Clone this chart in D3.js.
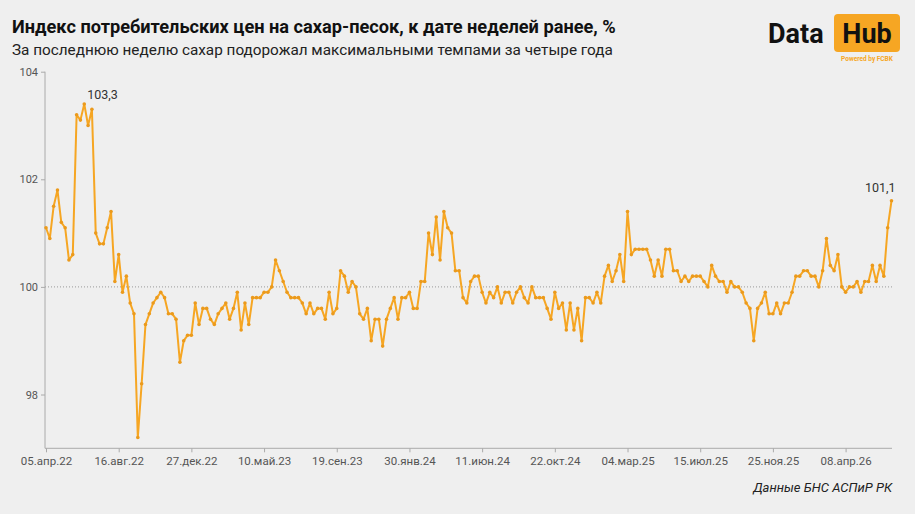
<!DOCTYPE html>
<html>
<head>
  <meta charset="utf-8">
  <title>Сахар-песок, недельный ИПЦ</title>
  <style>
    html, body { margin: 0; padding: 0; background: #efefef; }
    body { font-family: Roboto, "Noto Sans", sans-serif; }
    svg { display: block; }
    .tick text { fill: #555; }
  </style>
</head>
<body>
  <svg width="915" height="514"></svg>

  <script src="https://d3js.org/d3.v7.min.js"></script>
  <script>
    // weekly CPI for sugar, % to the previous week
    var values = [
      101.1, 100.9, 101.5, 101.8, 101.2, 101.1, 100.5, 100.6, 103.2, 103.1,
      103.4, 103.0, 103.3, 101.0, 100.8, 100.8, 101.1, 101.4, 100.1, 100.6,
      99.9, 100.2, 99.7, 99.5, 97.2, 98.2, 99.3, 99.5, 99.7, 99.8,
      99.9, 99.8, 99.5, 99.5, 99.4, 98.6, 99.0, 99.1, 99.1, 99.7,
      99.3, 99.6, 99.6, 99.4, 99.3, 99.5, 99.6, 99.7, 99.4, 99.6,
      99.9, 99.2, 99.7, 99.3, 99.8, 99.8, 99.8, 99.9, 99.9, 100.0,
      100.5, 100.3, 100.1, 99.9, 99.8, 99.8, 99.8, 99.7, 99.5, 99.7,
      99.5, 99.6, 99.6, 99.4, 99.9, 99.5, 99.6, 100.3, 100.2, 99.9,
      100.1, 100.0, 99.5, 99.4, 99.6, 99.0, 99.4, 99.4, 98.9, 99.4,
      99.6, 99.8, 99.4, 99.8, 99.8, 99.9, 99.6, 99.6, 100.1, 100.1,
      101.0, 100.6, 101.3, 100.5, 101.4, 101.1, 101.0, 100.3, 100.3, 99.8,
      99.7, 100.1, 100.2, 100.2, 99.9, 99.7, 99.9, 99.8, 100.0, 99.7,
      99.9, 99.9, 99.7, 99.9, 100.0, 99.8, 99.7, 100.0, 99.8, 99.8,
      99.8, 99.6, 99.4, 99.9, 99.6, 99.7, 99.2, 99.7, 99.2, 99.6,
      99.0, 99.8, 99.8, 99.7, 99.9, 99.7, 100.2, 100.4, 100.1, 100.3,
      100.6, 100.1, 101.4, 100.6, 100.7, 100.7, 100.7, 100.7, 100.5, 100.2,
      100.5, 100.2, 100.7, 100.7, 100.3, 100.3, 100.1, 100.2, 100.1, 100.2,
      100.2, 100.2, 100.1, 100.0, 100.4, 100.2, 100.1, 100.1, 99.9, 100.1,
      100.0, 100.0, 99.9, 99.7, 99.6, 99.0, 99.6, 99.7, 99.9, 99.5,
      99.5, 99.7, 99.5, 99.7, 99.7, 99.9, 100.2, 100.2, 100.3, 100.3,
      100.2, 100.2, 100.0, 100.3, 100.9, 100.4, 100.3, 100.6, 100.0, 99.9,
      100.0, 100.0, 100.1, 99.9, 100.1, 100.1, 100.4, 100.1, 100.4, 100.2,
      101.1, 101.6
    ];

    // x-axis labels and the week they sit on
    var tickLabels = ['05.апр.22', '16.авг.22', '27.дек.22', '10.май.23', '19.сен.23', '30.янв.24',
      '11.июн.24', '22.окт.24', '04.мар.25', '15.июл.25', '25.ноя.25', '08.апр.26'];
    var tickWeeks = [0, 19, 38, 57, 76, 95, 114, 133, 152, 171, 190, 209];

    var yTicks = [98, 100, 102, 104];

    // value labels on the chart
    var noteWeeks = [10, 221];
    var noteTexts = ['103,3', '101,1'];

    var svg = d3.select('svg');
    var orange = '#f6a623';

    // titles
    svg.append('text')
      .attr('x', 12).attr('y', 33)
      .style('font-size', '18.2px').style('font-weight', 700).style('fill', '#111')
      .text('Индекс потребительских цен на сахар-песок, к дате неделей ранее, %');
    svg.append('text')
      .attr('x', 12).attr('y', 55)
      .style('font-size', '15.3px').style('fill', '#222')
      .text('За последнюю неделю сахар подорожал максимальными темпами за четыре года');

    // Data Hub logo
    var logo = svg.append('g');
    logo.append('text')
      .attr('x', 768).attr('y', 43)
      .style('font-size', '27px').style('font-weight', 700).style('fill', '#111')
      .text('Data');
    logo.append('rect')
      .attr('x', 834).attr('y', 14).attr('width', 66).attr('height', 38).attr('rx', 4)
      .attr('fill', orange);
    logo.append('text')
      .attr('x', 867).attr('y', 43).attr('text-anchor', 'middle')
      .style('font-size', '27px').style('font-weight', 700).style('fill', '#111')
      .text('Hub');
    logo.append('text')
      .attr('x', 867).attr('y', 61).attr('text-anchor', 'middle')
      .style('font-size', '6.5px').style('font-weight', 700).style('fill', orange)
      .text('Powered by FCBK');

    // scales
    var x = d3.scaleLinear().domain([0, values.length - 1]).range([46, 891.5]);
    var y = d3.scaleLinear().domain([97, 104]).range([448.3, 71.7]);

    // reference line at 100
    svg.append('line')
      .attr('x1', 45).attr('x2', 892)
      .attr('y1', y(100)).attr('y2', y(100))
      .attr('stroke', '#9a9a9a').attr('stroke-width', 1)
      .attr('stroke-dasharray', '1,2');

    // axes
    var yAxis = svg.append('g')
      .attr('transform', 'translate(45,0)')
      .call(d3.axisLeft(y).tickValues(yTicks).tickFormat(d3.format('d'))
        .tickSize(4).tickPadding(3));
    yAxis.select('.domain').attr('stroke', '#aaa').attr('d', 'M0,' + y(104) + 'V' + y(97));
    yAxis.selectAll('.tick line').attr('stroke', '#aaa');
    yAxis.selectAll('.tick text').style('font-size', '11px').style('font-family', 'Roboto');

    var xAxis = svg.append('g')
      .attr('transform', 'translate(0,' + y(97) + ')')
      .call(d3.axisBottom(x).tickValues(tickWeeks)
        .tickFormat(function(d, i) { return tickLabels[i]; })
        .tickSize(4).tickPadding(5).tickSizeOuter(0));
    xAxis.select('.domain').attr('stroke', '#aaa').attr('d', 'M45,0H892');
    xAxis.selectAll('.tick line').attr('stroke', '#aaa');
    xAxis.selectAll('.tick text').style('font-size', '11.5px').style('font-family', 'Roboto');

    // series
    var line = d3.line()
      .x(function(d, i) { return x(i); })
      .y(function(d) { return y(d); });

    svg.append('path')
      .datum(values)
      .attr('d', line)
      .attr('fill', 'none')
      .attr('stroke', orange)
      .attr('stroke-width', 2)
      .attr('stroke-linejoin', 'round');

    svg.append('g').selectAll('circle')
      .data(values)
      .enter().append('circle')
      .attr('cx', function(d, i) { return x(i); })
      .attr('cy', function(d) { return y(d); })
      .attr('r', 1.8)
      .attr('fill', '#eb9a1c');

    // value labels
    svg.append('g').selectAll('text')
      .data(noteWeeks)
      .enter().append('text')
      .attr('x', function(d, i) { return x(d) + (i === 0 ? 3 : 4); })
      .attr('y', function(d, i) { return y(values[d]) + (i === 0 ? -5 : -9); })
      .attr('text-anchor', function(d, i) { return i === 0 ? 'start' : 'end'; })
      .style('font-size', '12.5px').style('fill', '#333')
      .text(function(d, i) { return noteTexts[i]; });

    // source
    svg.append('text')
      .attr('x', 892).attr('y', 492).attr('text-anchor', 'end')
      .style('font-size', '13px').style('font-style', 'italic').style('fill', '#222')
      .text('Данные БНС АСПиР РК');
  </script>
</body>
</html>
